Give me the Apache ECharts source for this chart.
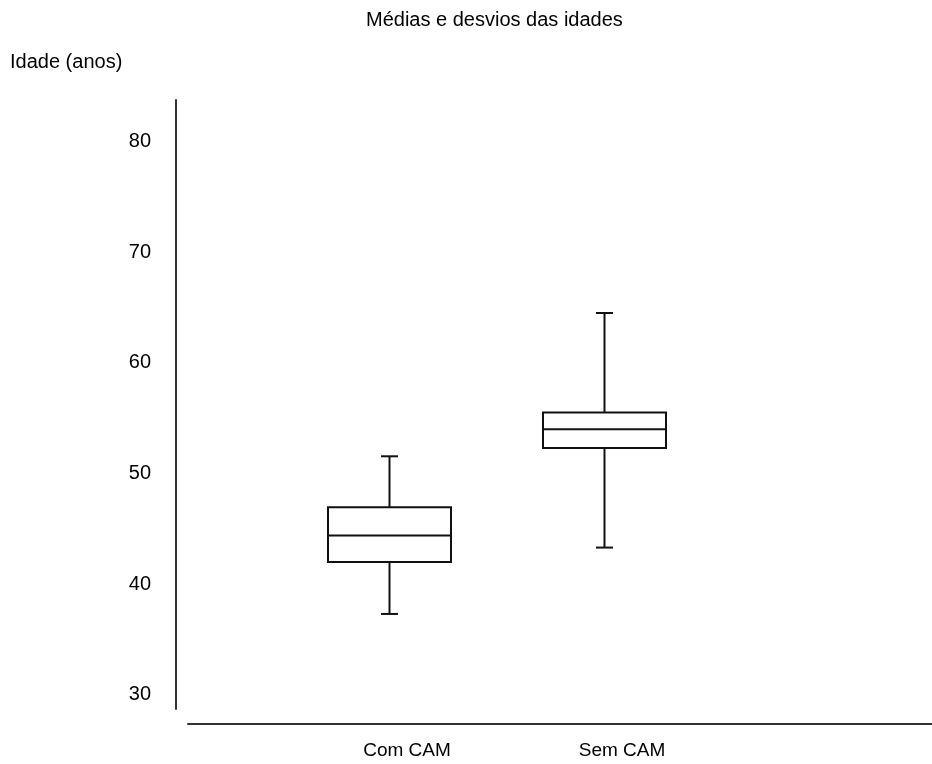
<!DOCTYPE html>
<html>
<head>
<meta charset="utf-8">
<script src="https://cdn.jsdelivr.net/npm/echarts@6/dist/echarts.min.js"></script>
<style>
  html, body { margin: 0; padding: 0; background: #fff; }
  #chart { width: 932px; height: 764px; }
</style>
</head>
<body>
<div id="chart"></div>
<script>
// ---- data ----
var categories = ['Com CAM', 'Sem CAM'];
var whiskerLow  = [37.3, 43.3];
var boxLow      = [42.0, 52.3];
var medians     = [44.4, 54.0];
var boxHigh     = [46.95, 55.5];
var whiskerHigh = [51.55, 64.5];
var yTicks = [30, 40, 50, 60, 70, 80];
var titleText = 'Médias e desvios das idades';
var yAxisTitle = 'Idade (anos)';

var FONT = '"Liberation Sans", Arial, sans-serif';

var source = categories.map(function (c, i) {
  return [i + 1, whiskerLow[i], boxLow[i], medians[i], boxHigh[i], whiskerHigh[i]];
});

var chart = echarts.init(document.getElementById('chart'), null, { renderer: 'canvas' });

var lineStyle = { stroke: '#111', lineWidth: 2, fill: null };

function renderBox(params, api) {
  var x = api.value(0);
  var pLo = api.coord([x, api.value(1)]);
  var pQ1 = api.coord([x, api.value(2)]);
  var pMed = api.coord([x, api.value(3)]);
  var pQ3 = api.coord([x, api.value(4)]);
  var pHi = api.coord([x, api.value(5)]);
  var cx = Math.round(pLo[0]) + 0.5;
  var bw = 123, cw = 17;
  return {
    type: 'group',
    children: [
      { type: 'rect', shape: { x: cx - bw / 2, y: pQ3[1], width: bw, height: pQ1[1] - pQ3[1] },
        style: { stroke: '#111', lineWidth: 2, fill: '#fff' } },
      { type: 'line', shape: { x1: cx - bw / 2, y1: pMed[1], x2: cx + bw / 2, y2: pMed[1] }, style: lineStyle },
      { type: 'line', shape: { x1: cx, y1: pHi[1], x2: cx, y2: pQ3[1] }, style: lineStyle },
      { type: 'line', shape: { x1: cx, y1: pQ1[1], x2: cx, y2: pLo[1] }, style: lineStyle },
      { type: 'line', shape: { x1: cx - cw / 2, y1: pHi[1], x2: cx + cw / 2, y2: pHi[1] }, style: lineStyle },
      { type: 'line', shape: { x1: cx - cw / 2, y1: pLo[1], x2: cx + cw / 2, y2: pLo[1] }, style: lineStyle }
    ]
  };
}

chart.setOption({
  animation: false,
  backgroundColor: '#fff',
  title: [
    { text: titleText, left: 366, top: 10, padding: 0,
      textStyle: { fontFamily: FONT, fontSize: 20, fontWeight: 'normal', color: '#000' } },
    { text: yAxisTitle, left: 10, top: 52, padding: 0,
      textStyle: { fontFamily: FONT, fontSize: 20, fontWeight: 'normal', color: '#000' } }
  ],
  grid: { left: 188, right: 0, top: 100, bottom: 55, containLabel: false },
  xAxis: {
    type: 'value',
    min: 0.0651,
    max: 3.5256,
    offset: 15,
    splitLine: { show: false },
    axisTick: { show: false },
    axisLine: { show: true, lineStyle: { color: '#333', width: 2 } },
    axisLabel: {
      customValues: categories.map(function (c, i) { return i + 1; }),
      formatter: function (v) { return categories[Math.round(v) - 1] || ''; },
      margin: 17,
      padding: [0, 0, 0, 36],
      fontFamily: FONT, fontSize: 19, color: '#000'
    }
  },
  yAxis: {
    type: 'value',
    min: 28.71,
    max: 83.75,
    offset: 12,
    splitLine: { show: false },
    axisTick: { show: false },
    axisLine: { show: true, lineStyle: { color: '#333', width: 2 } },
    axisLabel: {
      customValues: yTicks,
      margin: 25,
      fontFamily: FONT, fontSize: 20, color: '#000'
    }
  },
  series: [{
    type: 'custom',
    renderItem: renderBox,
    data: source,
    encode: { x: 0, y: [1, 2, 3, 4, 5] }
  }]
});
</script>
</body>
</html>
